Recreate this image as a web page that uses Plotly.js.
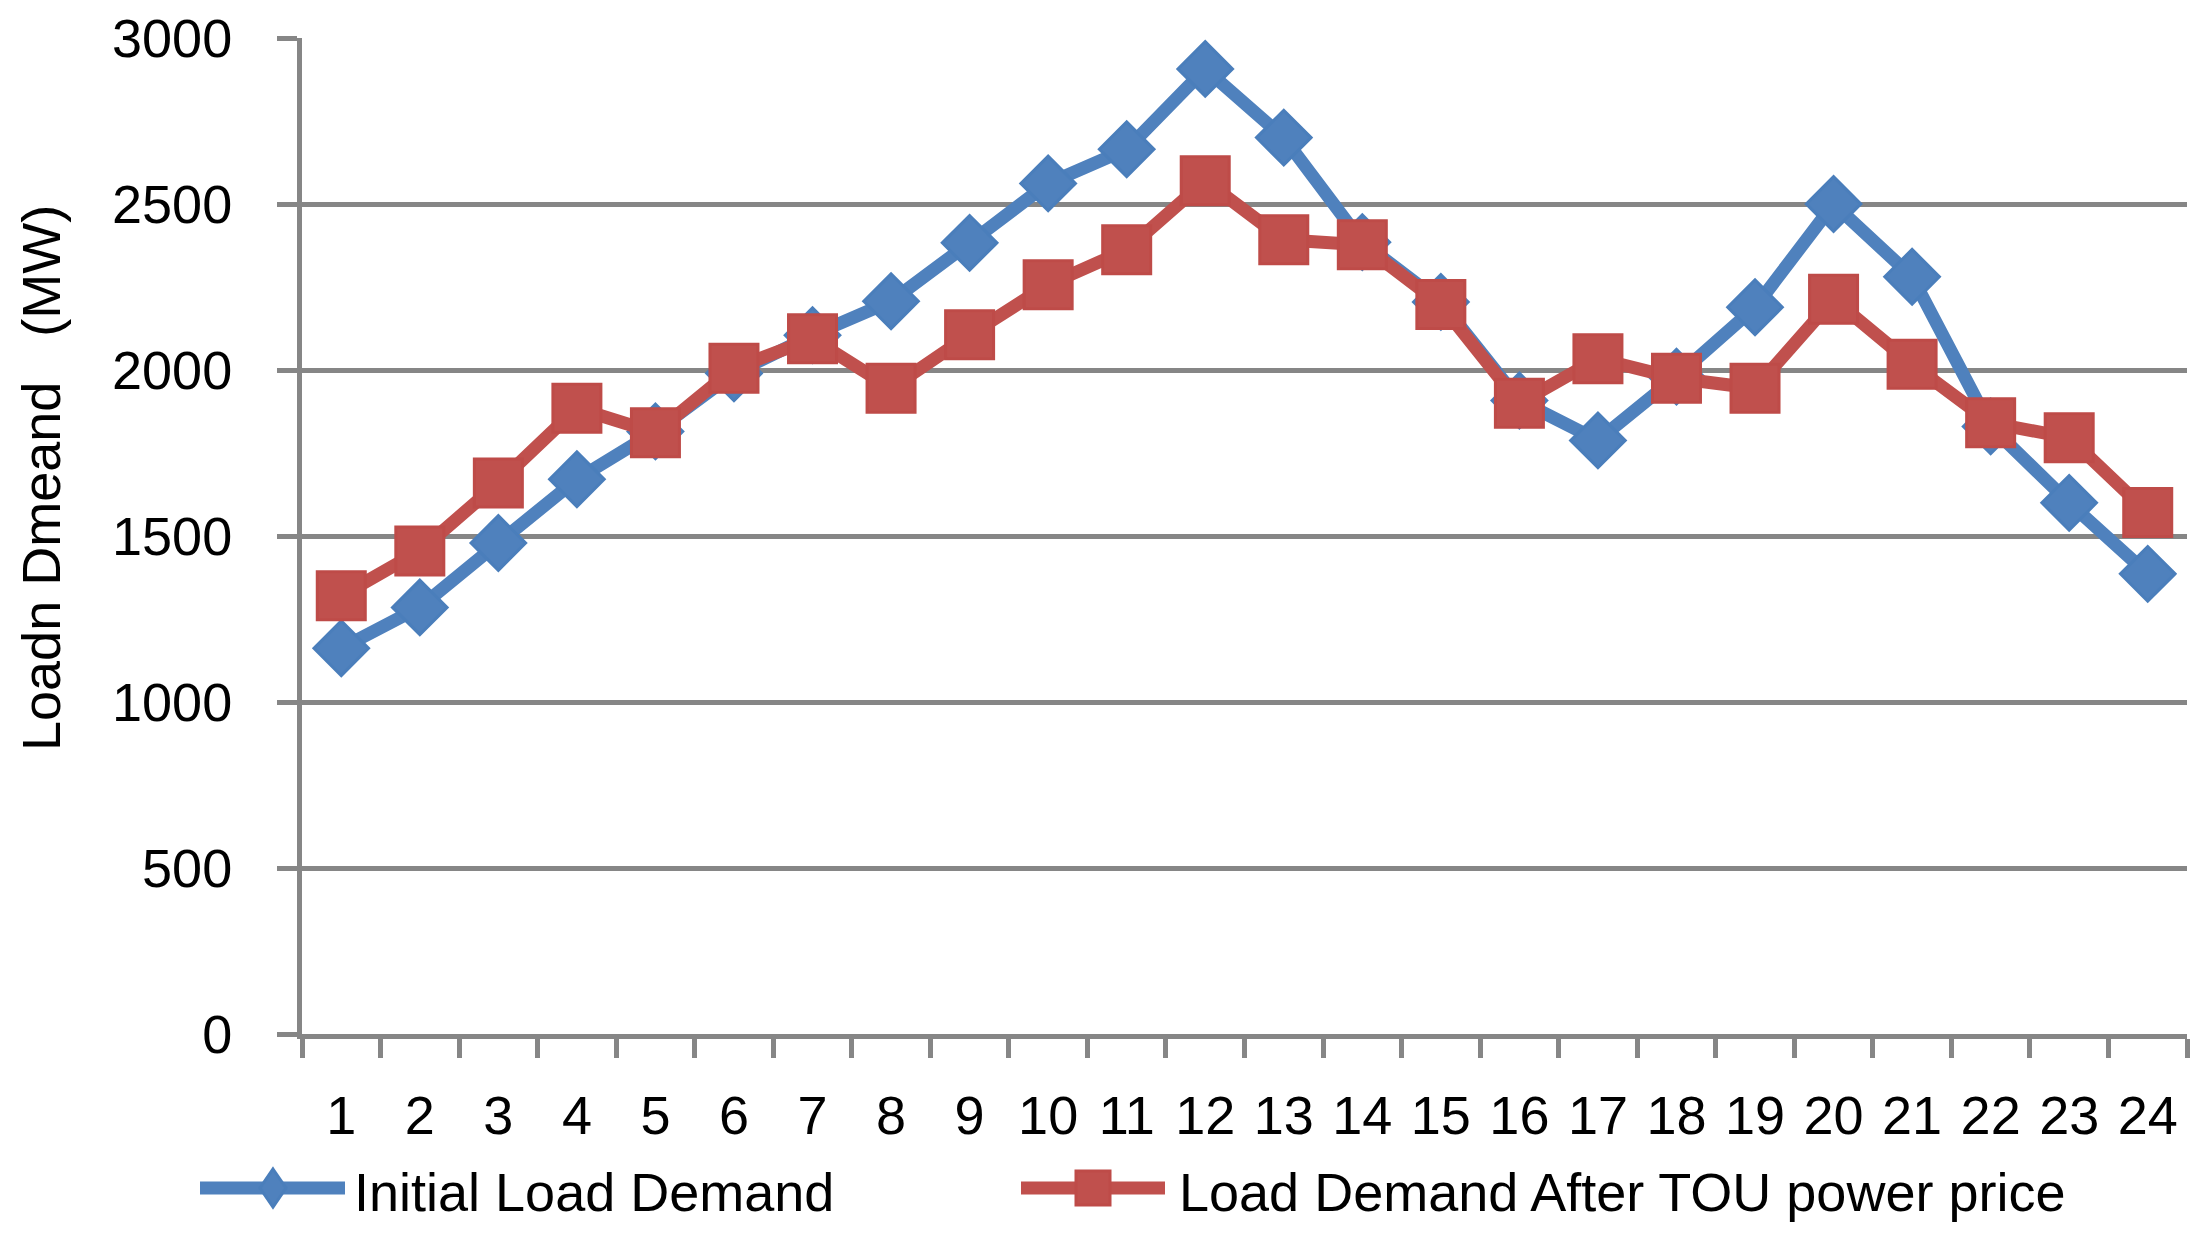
<!DOCTYPE html>
<html>
<head>
<meta charset="utf-8">
<script src="https://cdn.plot.ly/plotly-3.0.1.min.js"></script>
<style>
  html, body { margin: 0; padding: 0; background: #ffffff; }
  #chart { width: 2210px; height: 1237px; }
</style>
</head>
<body>
<div id="chart"></div>
<script>
// ---- data ----
const hours = ['1','2','3','4','5','6','7','8','9','10','11','12','13','14','15','16','17','18','19','20','21','22','23','24'];
const initialLoad = [1162, 1285, 1479, 1671, 1815, 1990, 2105, 2207, 2383, 2562, 2665, 2907, 2700, 2385, 2205, 1908, 1788, 1980, 2189, 2500, 2281, 1830, 1600, 1386];
const afterTOU = [1320, 1455, 1660, 1885, 1811, 2005, 2094, 1945, 2106, 2257, 2362, 2570, 2392, 2377, 2197, 1900, 2034, 1975, 1945, 2213, 2017, 1841, 1796, 1571];
const yTicks = [0, 500, 1000, 1500, 2000, 2500, 3000];
const seriesNames = ['Initial Load Demand', 'Load Demand After TOU power price'];
const yTitle = 'Loadn Dmeand\u00a0\u00a0\u00a0(MW)';

const FONT = 'Liberation Sans, Arial, sans-serif';
const GRID = '#868686';
const BLUE = '#4F81BD';
const RED = '#C0504D';
const BLUE_EDGE = '#4A7EBB';
const RED_EDGE = '#BE4B48';

const traces = [
  {
    x: hours, y: initialLoad, name: seriesNames[0], type: 'scatter', mode: 'lines+markers',
    line: { color: BLUE, width: 13 },
    marker: { symbol: 'diamond', size: 42, color: BLUE, line: { color: BLUE_EDGE, width: 3 } },
    showlegend: false
  },
  {
    x: hours, y: afterTOU, name: seriesNames[1], type: 'scatter', mode: 'lines+markers',
    line: { color: RED, width: 13 },
    marker: { symbol: 'square', size: 48, color: RED, line: { color: RED_EDGE, width: 3 } },
    showlegend: false
  }
];

const W = 2210, H = 1237;
const L = 302, R = 23, T = 38, B = 203;
const pw = W - L - R, ph = H - T - B;
const px2x = p => (p - L) / pw;
const px2y = p => (H - B - p) / ph;

// legend drawn as layout decorations (line + symbol + label)
const legendY = 1188;
const legendItems = [
  { name: seriesNames[0], x0: 200, x1: 345, mx: 273, color: BLUE, edge: BLUE_EDGE,
    path: 'M0,19 L13,0 L0,-19 L-13,0 Z', tx: 352 },
  { name: seriesNames[1], x0: 1021, x1: 1165, mx: 1093, color: RED, edge: RED_EDGE,
    path: 'M-17,-17 L17,-17 L17,17 L-17,17 Z', tx: 1177 }
];
const shapes = [];
const annotations = [];
legendItems.forEach(it => {
  shapes.push({ type: 'line', xref: 'paper', yref: 'paper',
    x0: px2x(it.x0), x1: px2x(it.x1), y0: px2y(legendY), y1: px2y(legendY),
    line: { color: it.color, width: 13 }, layer: 'above' });
  shapes.push({ type: 'path', xref: 'paper', yref: 'paper',
    xsizemode: 'pixel', ysizemode: 'pixel', xanchor: px2x(it.mx), yanchor: px2y(legendY),
    path: it.path, fillcolor: it.color, line: { color: it.edge, width: 3 }, layer: 'above' });
  annotations.push({ text: it.name, showarrow: false, xref: 'paper', yref: 'paper',
    x: px2x(it.tx), y: px2y(legendY + 4), xanchor: 'left', yanchor: 'middle',
    font: { family: FONT, size: 54, color: '#000000' } });
});
annotations.push({
  text: yTitle, textangle: -90, showarrow: false,
  xref: 'paper', yref: 'paper', x: px2x(41), y: px2y(478),
  xanchor: 'center', yanchor: 'middle',
  font: { family: FONT, size: 54, color: '#000000' }
});

const layout = {
  width: W, height: H,
  margin: { l: L, r: R, t: T, b: B, pad: 0 },
  paper_bgcolor: '#ffffff', plot_bgcolor: '#ffffff',
  font: { family: FONT, size: 54, color: '#000000' },
  xaxis: {
    type: 'category', tickson: 'boundaries', range: [-0.5, 23.5], tickangle: 0,
    showgrid: false, showline: true, linecolor: GRID, linewidth: 5,
    ticks: 'outside', ticklen: 19, tickwidth: 5, tickcolor: GRID,
    tickfont: { family: FONT, size: 54, color: '#000000' },
    ticklabelstandoff: 30, zeroline: false, fixedrange: true
  },
  yaxis: {
    range: [0, 3000], tickmode: 'array', tickvals: yTicks, ticktext: yTicks.map(String),
    showgrid: true, gridcolor: GRID, gridwidth: 5,
    showline: true, linecolor: GRID, linewidth: 5,
    ticks: 'outside', ticklen: 20, tickwidth: 5, tickcolor: GRID,
    tickfont: { family: FONT, size: 54, color: '#000000' },
    ticklabelstandoff: 34, zeroline: false, fixedrange: true
  },
  showlegend: false,
  shapes: shapes,
  annotations: annotations
};

Plotly.newPlot('chart', traces, layout, { displayModeBar: false, staticPlot: true });
</script>
</body>
</html>
